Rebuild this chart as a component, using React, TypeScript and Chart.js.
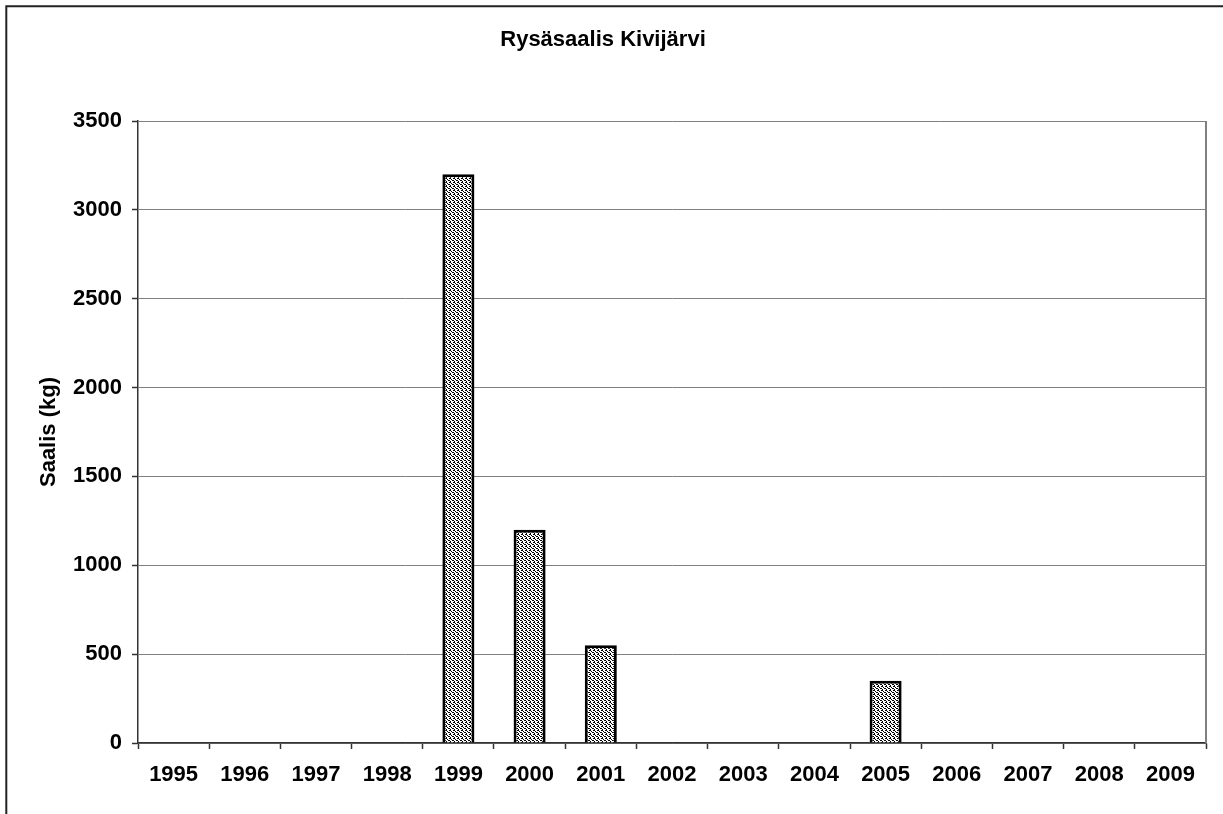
import React, { useEffect, useRef } from "react";
import { Chart, registerables } from "chart.js";

Chart.register(...registerables);

const years = ["1995", "1996", "1997", "1998", "1999", "2000", "2001", "2002", "2003", "2004", "2005", "2006", "2007", "2008", "2009"];
const catchKg = [0, 0, 0, 0, 3200, 1200, 550, 0, 0, 0, 350, 0, 0, 0, 0];
const chartTitle = "Rysäsaalis Kivijärvi";
const yTitle = "Saalis (kg)";

const FONT = "'Liberation Sans', Arial, Helvetica, sans-serif";
const FS = 22;

function makePattern(): CanvasPattern | string {
  const c = document.createElement("canvas");
  c.width = 4;
  c.height = 4;
  const g = c.getContext("2d");
  if (!g) return "#aaa";
  g.fillStyle = "#fff";
  g.fillRect(0, 0, 4, 4);
  g.fillStyle = "#000";
  g.fillRect(0, 0, 2, 1);
  g.fillRect(2, 1, 1, 1);
  g.fillRect(1, 2, 2, 1);
  g.fillRect(3, 3, 1, 1);
  const p = g.createPattern(c, "repeat");
  return p || "#aaa";
}

const framePlugin = {
  id: "frame",
  afterDraw(chart: any) {
    const { ctx, chartArea } = chart;
    ctx.save();
    ctx.strokeStyle = "#808080";
    ctx.lineWidth = 2;
    ctx.beginPath();
    ctx.moveTo(chartArea.right, chartArea.top);
    ctx.lineTo(chartArea.right, chartArea.bottom);
    ctx.stroke();
    ctx.strokeStyle = "#222";
    ctx.lineWidth = 2;
    ctx.beginPath();
    ctx.moveTo(6.3, 820);
    ctx.lineTo(6.3, 6.3);
    ctx.lineTo(1230, 6.3);
    ctx.stroke();
    ctx.restore();
  },
};

export default function App() {
  const ref = useRef<HTMLCanvasElement | null>(null);
  useEffect(() => {
    document.body.style.margin = "0";
    if (!ref.current) return;
    const chart = new Chart(ref.current, {
      type: "bar",
      data: {
        labels: years,
        datasets: [
          {
            data: catchKg,
            backgroundColor: makePattern() as any,
            borderColor: "#000",
            borderWidth: 3,
            categoryPercentage: 1,
            barPercentage: 0.45,
          },
        ],
      },
      options: {
        animation: false,
        responsive: true,
        maintainAspectRatio: false,
        layout: { padding: { left: 0, right: 17, top: 0, bottom: 0 } },
        plugins: {
          legend: { display: false },
          tooltip: { enabled: false },
          title: {
            display: true,
            text: chartTitle,
            color: "#000",
            font: { family: FONT, size: FS, weight: "bold" },
            padding: { top: 26.3, bottom: 68.3 },
          },
        },
        scales: {
          x: {
            afterFit: (s: any) => {
              s.height = 71;
            },
            grid: {
              display: true,
              offset: true,
              drawOnChartArea: false,
              drawTicks: true,
              tickLength: 6,
              tickColor: "#333",
              tickWidth: 1.5,
            },
            border: { display: true, color: "#333", width: 1.5 },
            ticks: {
              color: "#000",
              padding: 13,
              maxRotation: 0,
              autoSkip: false,
              font: { family: FONT, size: FS, weight: "bold" },
            },
          },
          y: {
            min: 0,
            max: 3500,
            afterFit: (s: any) => {
              s.width = 138;
            },
            grid: {
              color: "#808080",
              lineWidth: 1,
              tickLength: 6,
              tickColor: "#333",
              tickWidth: 1.5,
            },
            border: { display: true, color: "#333", width: 1.5 },
            ticks: {
              stepSize: 500,
              color: "#000",
              padding: 10,
              callback: (v: any) => String(v),
              font: { family: FONT, size: FS, weight: "bold" },
            },
            title: {
              display: true,
              text: yTitle,
              color: "#000",
              font: { family: FONT, size: FS, weight: "bold" },
              padding: { top: 35.8, bottom: 0 },
            },
          },
        },
      },
      plugins: [framePlugin],
    });
    return () => chart.destroy();
  }, []);
  return (
    <div style={{ width: 1223, height: 814, position: "relative", background: "#fff" }}>
      <canvas ref={ref} />
    </div>
  );
}
